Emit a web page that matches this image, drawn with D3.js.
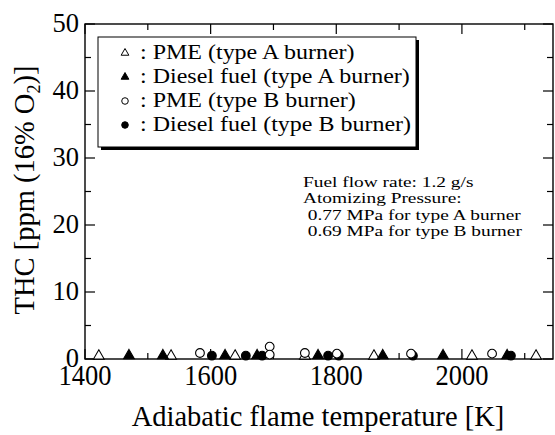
<!DOCTYPE html>
<html><head><meta charset="utf-8">
<script src="https://cdn.jsdelivr.net/npm/d3@7"></script>
<style>body{margin:0;background:#fff}svg{display:block}</style>
</head><body><svg id="c" width="555" height="435" font-family="Liberation Serif, Times New Roman, serif"></svg>
<script>
const xTicks=[1400,1600,1800,2000];
const yTicks=[0,10,20,30,40,50];
const pmeA_T=[1422,1537,1639,1750,1860,2016,2118];
const pmeA_V=[0.45,0.45,0.45,0.45,0.45,0.45,0.45];
const dieselA_T=[1470,1524,1623,1674,1771,1874,1970,2072];
const dieselA_V=[0.5,0.5,0.5,0.5,0.5,0.5,0.5,0.5];
const pmeB_T=[1583,1694,1694,1750,1801,1919,2048];
const pmeB_V=[0.9,1.85,0.65,0.9,0.8,0.8,0.8];
const dieselB_T=[1602,1656,1682,1787,1804,1922,2078];
const dieselB_V=[0.5,0.5,0.5,0.5,0.5,0.5,0.5];
const legendLabels=[": PME (type A burner)",": Diesel fuel (type A burner)",": PME (type B burner)",": Diesel fuel (type B burner)"];
const noteLines=["Fuel flow rate: 1.2 g/s","Atomizing Pressure:","\u00a00.77 MPa for type A burner","\u00a00.69 MPa for type B burner"];

const FF="Liberation Serif, Times New Roman, serif";
const svg=d3.select("#c");
const L=85,R=553,T=24,B=359;
const x=d3.scaleLinear().domain([1400,2145]).range([L,R]);
const y=d3.scaleLinear().domain([0,50]).range([B,T]);
function txt(px,py,sx,sy){return svg.append("text").attr("font-family",FF).attr("fill","#000")
  .attr("transform",`translate(${px},${py}) scale(${sx||1},${sy||1})`);}

// frame
svg.append("rect").attr("x",L).attr("y",T).attr("width",R-L).attr("height",B-T).attr("fill","none").attr("stroke","#000").attr("stroke-width",1.4);

// ticks (inward)
const xMinor=d3.range(1500,2145,200);
const g=svg.append("g").attr("stroke","#000").attr("stroke-width",1.2);
xTicks.forEach(t=>{g.append("line").attr("x1",x(t)).attr("x2",x(t)).attr("y1",B).attr("y2",B-10);g.append("line").attr("x1",x(t)).attr("x2",x(t)).attr("y1",T).attr("y2",T+10);});
xMinor.forEach(t=>{g.append("line").attr("x1",x(t)).attr("x2",x(t)).attr("y1",B).attr("y2",B-6);g.append("line").attr("x1",x(t)).attr("x2",x(t)).attr("y1",T).attr("y2",T+6);});
yTicks.forEach(t=>{g.append("line").attr("x1",L).attr("x2",L+10).attr("y1",y(t)).attr("y2",y(t));g.append("line").attr("x1",R).attr("x2",R-10).attr("y1",y(t)).attr("y2",y(t));});
d3.range(5,50,10).forEach(t=>{g.append("line").attr("x1",L).attr("x2",L+6).attr("y1",y(t)).attr("y2",y(t));g.append("line").attr("x1",R).attr("x2",R-6).attr("y1",y(t)).attr("y2",y(t));});

// tick labels
xTicks.forEach(t=>txt(x(t),385,1,1.12).attr("text-anchor","middle").attr("font-size",26.5).text(t));
yTicks.forEach(t=>txt(79,y(t)+8,1,1.05).attr("text-anchor","end").attr("font-size",26.5).text(t));

// axis titles
txt(318,426).attr("text-anchor","middle").attr("font-size",28.5).text("Adiabatic flame temperature [K]");
const yt=svg.append("text").attr("font-family",FF).attr("fill","#000").attr("transform","translate(34,190) rotate(-90)").attr("text-anchor","middle").attr("font-size",28.5);
yt.append("tspan").text("THC [ppm (16% O");
yt.append("tspan").attr("font-size",18).attr("dy",6).text("2");
yt.append("tspan").attr("dy",-6).text(")]");

// markers
const triUp=d3.symbol().type(d3.symbolTriangle).size(50);
const circ=d3.symbol().type(d3.symbolCircle).size(60);
function plot(Ts,Vs,sym,filled){
  svg.append("g").selectAll("path").data(Ts.map((t,i)=>[t,Vs[i]])).join("path")
   .attr("d",sym).attr("transform",d=>`translate(${x(d[0])},${y(d[1])})`)
   .attr("fill",filled?"#000":"#fff").attr("stroke","#000").attr("stroke-width",1.1);
}
plot(pmeA_T,pmeA_V,triUp,false);
plot(dieselA_T,dieselA_V,triUp,true);
plot(dieselB_T,dieselB_V,circ,true);
plot(pmeB_T,pmeB_V,circ,false);

// legend
const lgL=98,lgT=37,lgW=318,lgH=110;
svg.append("rect").attr("x",lgL+3).attr("y",lgT+3).attr("width",lgW).attr("height",lgH).attr("fill","#000");
svg.append("rect").attr("x",lgL).attr("y",lgT).attr("width",lgW).attr("height",lgH).attr("fill","#fff").attr("stroke","#000").attr("stroke-width",1);
const lTri=d3.symbol().type(d3.symbolTriangle).size(26);
const lCirc=d3.symbol().type(d3.symbolCircle).size(34);
const syms=[[lTri,false],[lTri,true],[lCirc,false],[lCirc,true]];
legendLabels.forEach((lab,i)=>{
  const base=59+i*24;
  svg.append("path").attr("d",syms[i][0]).attr("transform",`translate(125,${base-6})`).attr("fill",syms[i][1]?"#000":"#fff").attr("stroke","#000").attr("stroke-width",1);
  txt(140,base,1.2,1).attr("font-size",20).text(lab);
});

// note
noteLines.forEach((l,i)=>txt(303,187+i*16.4,1.25,1).attr("font-size",15.5).text(l));
</script></body></html>
